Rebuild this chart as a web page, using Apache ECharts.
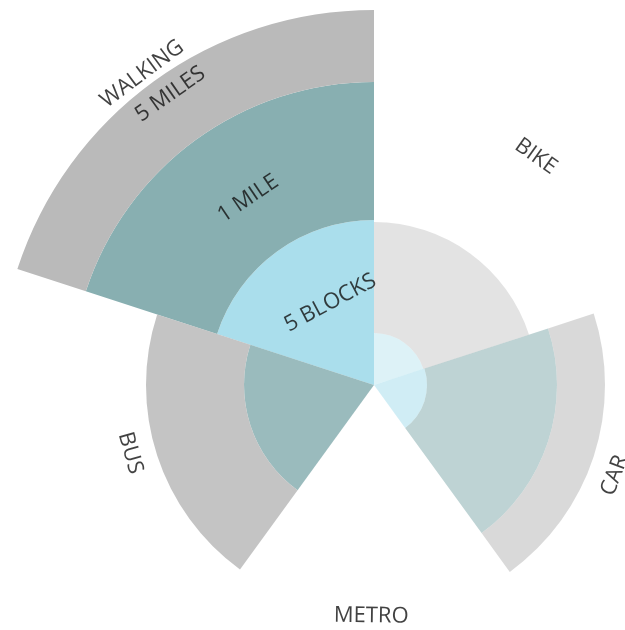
<!DOCTYPE html>
<html>
<head>
<meta charset="utf-8">
<script src="https://cdn.jsdelivr.net/npm/echarts@6/dist/echarts.min.js"></script>
<style>
  html, body { margin: 0; padding: 0; background: #fff; }
  #chart { width: 625px; height: 630px; }
</style>
</head>
<body>
<div id="chart"></div>
<script>
// modes, counter-clockwise from 12 o'clock
const modes = ['WALKING', 'BUS', 'METRO', 'CAR', 'BIKE'];

// reach of each ring (same units as the radius axis, 0..375)
const blocks5 = [165, 0, 0, 53, 52];
const mile1 = [303, 130, 0, 183, 0];
const miles5 = [375, 228, 0, 231, 163];

// how strongly each mode is shaded
const modeOpacity = [1, 0.85, 1, 0.55, 0.4];

// text labels: [radius, angle in degrees]
const labelText = ['WALKING', '5 MILES', '1 MILE', '5 BLOCKS', 'BIKE', 'CAR', 'METRO', 'BUS'];
const labelRadius = [388, 355, 225, 93, 280, 257, 231, 253];
const labelAngle = [126.7, 125, 124, 118, 54.7, -20.6, 269.3, 195.6];

const ringColors = ['#aadeec', '#88afb1', '#bababa'];
const maxR = 375;
const labelMaxR = 420;

let myChart = echarts.init(document.getElementById('chart'));

function ringData(values, prev) {
  return values.map((v, i) => {
    let base = 0;
    prev.forEach(p => { base = Math.max(base, p[i]); });
    return {
      value: Math.max(0, v - base),
      itemStyle: { opacity: modeOpacity[i] },
    };
  });
}

function tangent(a) {
  let r = a - 90;
  while (r > 90) r -= 180;
  while (r < -90) r += 180;
  return r;
}

const labelData = labelText.map((t, i) => ({
  value: [labelRadius[i], labelAngle[i]],
  name: t,
  label: { rotate: tangent(labelAngle[i]) },
}));

let option = {
  animation: false,
  polar: [
    { center: [374, 385], radius: maxR },
    { center: [374, 385], radius: labelMaxR },
  ],
  angleAxis: [
    {
      polarIndex: 0,
      type: 'category',
      data: modes,
      startAngle: 90,
      clockwise: false,
      show: false,
    },
    {
      polarIndex: 1,
      type: 'value',
      min: 0,
      max: 360,
      startAngle: 0,
      clockwise: false,
      show: false,
    },
  ],
  radiusAxis: [
    { polarIndex: 0, type: 'value', min: 0, max: maxR, show: false },
    { polarIndex: 1, type: 'value', min: 0, max: labelMaxR, show: false },
  ],
  series: [
    {
      name: '5 BLOCKS',
      type: 'bar',
      coordinateSystem: 'polar',
      polarIndex: 0,
      stack: 'reach',
      barCategoryGap: '0%',
      itemStyle: { color: ringColors[0] },
      data: ringData(blocks5, []),
    },
    {
      name: '1 MILE',
      type: 'bar',
      coordinateSystem: 'polar',
      polarIndex: 0,
      stack: 'reach',
      barCategoryGap: '0%',
      itemStyle: { color: ringColors[1] },
      data: ringData(mile1, [blocks5]),
    },
    {
      name: '5 MILES',
      type: 'bar',
      coordinateSystem: 'polar',
      polarIndex: 0,
      stack: 'reach',
      barCategoryGap: '0%',
      itemStyle: { color: ringColors[2] },
      data: ringData(miles5, [blocks5, mile1]),
    },
    {
      type: 'scatter',
      coordinateSystem: 'polar',
      polarIndex: 1,
      symbolSize: 0,
      silent: true,
      z: 10,
      label: {
        show: true,
        position: 'inside',
        formatter: '{b}',
        fontFamily: 'Open Sans',
        fontSize: 22,
        color: '#111',
        align: 'center',
        verticalAlign: 'middle',
      },
      data: labelData,
    },
  ],
};
myChart.setOption(option);
</script>
</body>
</html>
